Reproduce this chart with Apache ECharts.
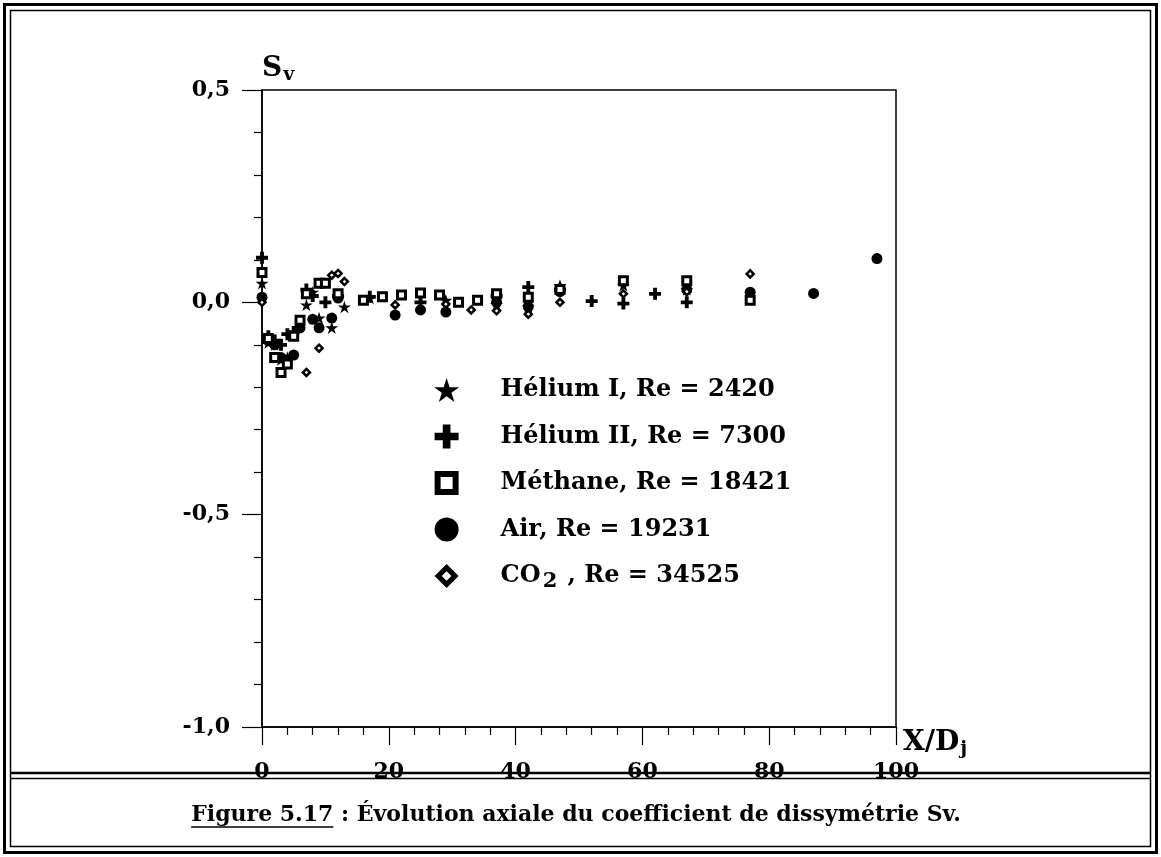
<!DOCTYPE html>
<html><head><meta charset="utf-8">
<script src="https://cdn.jsdelivr.net/npm/echarts@6/dist/echarts.min.js"></script>
<style>html,body{margin:0;padding:0;background:#fff}#c{width:1161px;height:857px}</style>
</head><body><div id="c"></div>
<script>
// ---------- data ----------
const seriesNames = ['Hélium I, Re = 2420', 'Hélium II, Re = 7300', 'Méthane, Re = 18421', 'Air, Re = 19231', 'CO2, Re = 34525'];
const heliumI = [[0,0.045],[1,-0.095],[2,-0.1],[3,-0.135],[4,-0.13],[5,-0.075],[7,-0.006],[8,0.024],[9,-0.037],[11,-0.06],[13,-0.011],[17,0.01],[29,0.005],[37,-0.005],[42,-0.01],[47,0.04],[57,0.04],[67,0.03]];
const heliumII = [[0,0.105],[1,-0.08],[2,-0.09],[3,-0.1],[4,-0.075],[5,-0.07],[7,0.03],[8,0.015],[10,0.0],[12,0.015],[17,0.013],[25,0.0],[37,0.015],[42,0.036],[47,0.03],[52,0.003],[57,-0.003],[62,0.02],[67,0.0]];
const methane = [[0,0.07],[1,-0.085],[2,-0.13],[3,-0.165],[4,-0.145],[5,-0.08],[6,-0.042],[7,0.02],[9,0.045],[10,0.045],[12,0.02],[16,0.005],[19,0.013],[22,0.017],[25,0.022],[28,0.017],[31,0.0],[34,0.005],[37,0.02],[42,0.012],[47,0.03],[57,0.051],[67,0.051],[77,0.005]];
const air = [[0,0.012],[1,-0.09],[2,-0.1],[3,-0.13],[4,-0.135],[5,-0.124],[6,-0.06],[8,-0.04],[9,-0.06],[11,-0.037],[12,0.01],[21,-0.03],[25,-0.018],[29,-0.023],[37,0.0],[42,-0.01],[47,0.025],[67,0.03],[77,0.024],[87,0.021],[97,0.103]];
const co2 = [[0,0.0],[7,-0.165],[9,-0.108],[11,0.064],[12,0.068],[13,0.049],[21,-0.006],[29,-0.004],[33,-0.018],[37,-0.02],[42,-0.028],[47,0.0],[57,0.02],[67,0.025],[77,0.067]];
const xTickValues = [0, 20, 40, 60, 80, 100];
const xTickLabels = ['0', '20', '40', '60', '80', '100'];
const yTickValues = [-1, -0.5, 0, 0.5];
const yTickLabels = ['-1,0', '-0,5', '0,0', '0,5'];
const captionBold = 'Figure 5.17';
const captionRest = ' : Évolution axiale du coefficient de dissymétrie Sv.';

// ---------- styles ----------
const FF = "'DejaVu Serif', serif";
const STAR = 'path://M100,0 L122.45,69.1 L195.11,69.1 L136.33,111.8 L158.78,180.9 L100,138.2 L41.22,180.9 L63.67,111.8 L4.89,69.1 L77.55,69.1 Z';
const PLUS = 'path://M34,0 H66 V34 H100 V66 H66 V100 H34 V66 H0 V34 H34 Z';
const SQ_ICON = 'path://M0,0 H100 V100 H0 Z M25,25 V75 H75 V25 Z';
const DIA_ICON = 'path://M50,0 L100,50 L50,100 L0,50 Z M50,30 L30,50 L50,70 L70,50 Z';

function lab(v, vals, labs) {
  for (let i = 0; i < vals.length; i++) if (Math.abs(vals[i] - v) < 1e-9) return labs[i];
  return '';
}

const chart = echarts.init(document.getElementById('c'), null, {renderer: 'canvas'});

// caption measurement for underline
const cv = document.createElement('canvas').getContext('2d');
const capFont = 'bold 22px ' + FF;
cv.font = capFont;
const wAll = cv.measureText(captionBold + captionRest).width;
const wBold = cv.measureText(captionBold).width;
const capCx = 576, capY = 815;
const capX0 = capCx - wAll / 2;

const option = {
  backgroundColor: '#fff',
  animation: false,
  grid: {left: 262, right: 265, top: 90, bottom: 130, show: true, borderColor: '#000', borderWidth: 1.5, backgroundColor: 'transparent'},
  xAxis: {
    type: 'value', min: 0, max: 100, interval: 20,
    axisLine: {show: true, onZero: false, lineStyle: {color: '#000', width: 1.5}},
    axisTick: {show: true, length: 18, lineStyle: {color: '#000', width: 1.2}},
    minorTick: {show: true, splitNumber: 5, length: 8, lineStyle: {color: '#000', width: 1.2}},
    splitLine: {show: false},
    axisLabel: {margin: 34, color: '#000', fontSize: 22, fontWeight: 'bold', fontFamily: FF,
      formatter: v => lab(v, xTickValues, xTickLabels)},
    name: 'X/D{j|j}', nameLocation: 'end', nameGap: 7,
    nameTextStyle: {color: '#000', fontSize: 28, fontWeight: 'bold', fontFamily: FF, align: 'left', verticalAlign: 'top',
      rich: {j: {fontSize: 19, fontWeight: 'bold', fontFamily: FF, color: '#000', padding: [13, 0, 0, 1]}}}
  },
  yAxis: {
    type: 'value', min: -1, max: 0.5, interval: 0.5,
    axisLine: {show: true, onZero: false, lineStyle: {color: '#000', width: 1.5}},
    axisTick: {show: true, length: 20, lineStyle: {color: '#000', width: 1.2}},
    minorTick: {show: true, splitNumber: 5, length: 8, lineStyle: {color: '#000', width: 1.2}},
    splitLine: {show: false},
    axisLabel: {margin: 32, color: '#000', fontSize: 22, fontWeight: 'bold', fontFamily: FF,
      formatter: v => lab(v, yTickValues, yTickLabels)},
    name: 'S{v|v}', nameLocation: 'end', nameGap: 5,
    nameTextStyle: {color: '#000', fontSize: 28, fontWeight: 'bold', fontFamily: FF, align: 'left',
      rich: {v: {fontSize: 19, fontWeight: 'bold', fontFamily: FF, color: '#000', padding: [14, 0, 0, 1]}}}
  },
  legend: {
    orient: 'vertical', left: 429, top: 373, itemWidth: 98, itemHeight: 24, itemGap: 22.5,
    selectedMode: false,
    textStyle: {color: '#000', fontSize: 24, fontWeight: 'bold', fontFamily: FF,
      rich: {s: {fontSize: 21, fontWeight: 'bold', fontFamily: FF, color: '#000', padding: [12, 2, 0, 2]}}},
    formatter: name => name.indexOf('CO2') === 0 ? 'CO{s|2}' + name.slice(3).replace(',', ' ,') : name,
    data: [
      {name: seriesNames[0]},
      {name: seriesNames[1]},
      {name: seriesNames[2], icon: SQ_ICON, itemStyle: {color: '#000', borderWidth: 0}},
      {name: seriesNames[3]},
      {name: seriesNames[4], icon: DIA_ICON, itemStyle: {color: '#000', borderWidth: 0}}
    ]
  },
  series: [
    {name: seriesNames[3], type: 'scatter', data: air, symbol: 'circle', symbolSize: 11, itemStyle: {color: '#000', opacity: 1}},
    {name: seriesNames[0], type: 'scatter', data: heliumI, symbol: STAR, symbolKeepAspect: true, symbolSize: 13, itemStyle: {color: '#000', opacity: 1}},
    {name: seriesNames[1], type: 'scatter', data: heliumII, symbol: PLUS, symbolKeepAspect: true, symbolSize: 12, itemStyle: {color: '#000', opacity: 1}},
    {name: seriesNames[2], type: 'scatter', data: methane, symbol: 'rect', symbolSize: 8, itemStyle: {color: '#fff', borderColor: '#000', borderWidth: 3, opacity: 1}},
    {name: seriesNames[4], type: 'scatter', data: co2, symbol: 'diamond', symbolSize: 7, itemStyle: {color: '#fff', borderColor: '#000', borderWidth: 2.5, opacity: 1}}
  ],
  graphic: [
    {type: 'rect', shape: {x: 4.5, y: 4.5, width: 1152, height: 848}, style: {fill: 'none', stroke: '#000', lineWidth: 3}, silent: true},
    {type: 'rect', shape: {x: 10.5, y: 10.5, width: 1140, height: 836}, style: {fill: 'none', stroke: '#000', lineWidth: 1.5}, silent: true},
    {type: 'line', shape: {x1: 10, y1: 773, x2: 1151, y2: 773}, style: {stroke: '#000', lineWidth: 2.5}, silent: true},
    {type: 'line', shape: {x1: 10, y1: 778.5, x2: 1151, y2: 778.5}, style: {stroke: '#000', lineWidth: 1.5}, silent: true},
    {type: 'text', x: capX0, y: capY, style: {text: captionBold + captionRest, font: capFont, fill: '#000', textAlign: 'left', textVerticalAlign: 'middle'}, silent: true},
    {type: 'line', shape: {x1: capX0, y1: capY + 12, x2: capX0 + wBold, y2: capY + 12}, style: {stroke: '#000', lineWidth: 1.5}, silent: true}
  ]
};
chart.setOption(option);
</script>
</body></html>
